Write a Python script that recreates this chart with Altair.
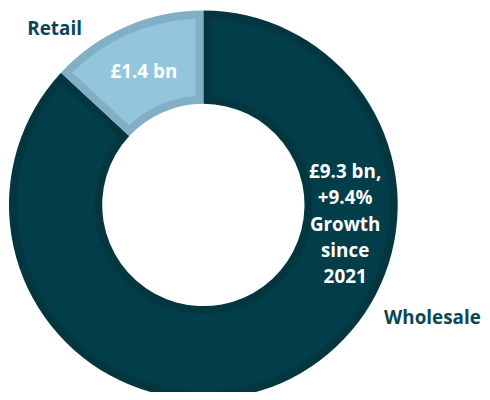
import altair as alt
import pandas as pd

categories = ["Wholesale", "Retail"]
values = [9.3, 1.4]
fill_colors = ["#023D4A", "#93C5DD"]
border_colors = ["#03363F", "#80AFC6"]

df = pd.DataFrame({"segment": categories, "value": values, "order": [0, 1]})

FONT = "Open Sans"
CX, CY = 197, 197
R_OUT, R_IN = 196, 102

theta = alt.Theta("value:Q", stack=True)
order = alt.Order("order:Q")

border = alt.Chart(df).mark_arc(radius=R_OUT, radius2=R_IN).encode(
    theta=theta,
    order=order,
    fill=alt.Fill("segment:N", scale=alt.Scale(domain=categories, range=border_colors), legend=None),
    x=alt.value(CX), y=alt.value(CY),
)

inner = alt.Chart(df).mark_arc(radius=R_OUT - 8, radius2=R_IN + 8, padAngle=0.073).encode(
    theta=theta,
    order=order,
    color=alt.Color("segment:N", scale=alt.Scale(domain=categories, range=fill_colors), legend=None),
    x=alt.value(CX), y=alt.value(CY),
)

retail_val = alt.Chart(df).transform_filter(alt.datum.segment == "Retail").mark_text(
    font=FONT, fontWeight="bold", fontSize=19, color="white"
).encode(x=alt.value(137), y=alt.value(63), text=alt.value("£1.4 bn"))

wholesale_val = alt.Chart(df).transform_filter(alt.datum.segment == "Wholesale").mark_text(
    font=FONT, fontWeight="bold", fontSize=19, color="white", lineBreak="\n", lineHeight=26.5,
    baseline="middle", align="center"
).encode(x=alt.value(340), y=alt.value(164), text=alt.value("£9.3 bn,\n+9.4%\nGrowth\nsince\n2021"))

retail_lbl = alt.Chart(df).transform_filter(alt.datum.segment == "Retail").mark_text(
    font=FONT, fontWeight="bold", fontSize=19, color="#0B4654"
).encode(x=alt.value(47), y=alt.value(20), text="segment:N")

wholesale_lbl = alt.Chart(df).transform_filter(alt.datum.segment == "Wholesale").mark_text(
    font=FONT, fontWeight="bold", fontSize=19, color="#0B4654"
).encode(x=alt.value(428), y=alt.value(311), text="segment:N")

chart = alt.layer(border, inner, retail_val, wholesale_val, retail_lbl, wholesale_lbl).resolve_scale(
    color="independent", fill="independent"
).properties(
    width=478, height=384, padding=0, autosize=alt.AutoSizeParams(type="none")
).configure_view(stroke=None)

chart.save("out.html", embed_options={"renderer": "svg", "actions": False})
